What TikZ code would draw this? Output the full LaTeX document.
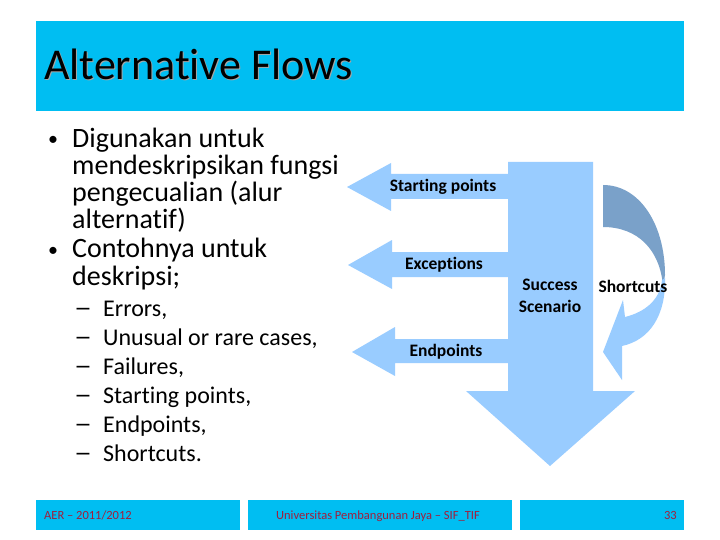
\documentclass[tikz,border=0pt]{standalone}
\usepackage{fontspec}
\setmainfont{Carlito}[Ligatures={NoCommon},RawFeature={-liga;-clig;-dlig}]
\definecolor{barcyan}{RGB}{0,190,242}
\definecolor{arrowblue}{RGB}{153,204,255}
\definecolor{arrowdark}{RGB}{122,161,201}
\definecolor{foottext}{RGB}{160,30,60}
\tikzset{
  body/.style={anchor=base west,inner sep=0pt,font=\fontsize{28}{28}\selectfont},
  bul/.style={anchor=base west,inner sep=0pt,font=\fontsize{20}{20}\selectfont},
  subbody/.style={anchor=base west,inner sep=0pt,font=\fontsize{24}{24}\selectfont},
  lbl/.style={inner sep=0pt,font=\fontsize{17.5}{21.5}\selectfont\bfseries,align=center},
  foot/.style={inner sep=0pt,anchor=base,font=\fontsize{12.5}{12.5}\selectfont,text=foottext}
}
\begin{document}
\begin{tikzpicture}[x=1pt,y=-1pt]
\useasboundingbox (0,0) rectangle (720,540);
\fill[white] (0,0) rectangle (720,540);
% title bar
\fill[barcyan] (36,21) rectangle (684,111);
\node[anchor=base west,inner sep=0pt,font=\fontsize{44}{44}\selectfont,text=black!35] at (45,81) {Alternative Flows};
\node[anchor=base west,inner sep=0pt,font=\fontsize{44}{44}\selectfont] (title) at (44,80) {Alternative Flows};
% body text
\node[bul] (b1) at (48,146) {•};
\node[body] (l1) at (72,148) {Digunakan untuk};
\node[body] (l2) at (72,175) {mendeskripsikan fungsi};
\node[body] (l3) at (72,202) {pengecualian (alur};
\node[body] (l4) at (72,229) {alternatif)};
\node[bul] (b2) at (48,256) {•};
\node[body] (l5) at (72,258) {Contohnya untuk};
\node[body] (l6) at (72,285) {deskripsi;};
\foreach \y/\t [count=\i] in {316/{Errors,},345/{Unusual or rare cases,},374/{Failures,},403/{Starting points,},432/{Endpoints,},461/{Shortcuts.}}{
  \node[subbody] (d\i) at (74,\y) {\scalebox{1.5}[1.1]{–}};
  \node[subbody] (s\i) at (103,\y) {\t};
}
% big down arrow and side arrows
\fill[arrowblue] (508,162) -- (593,162) -- (593,391) -- (635,391) -- (550,466) -- (466,391) -- (508,391) -- cycle;
\fill[arrowblue] (509,174) -- (391,174) -- (391,163) -- (347,187) -- (391,211) -- (391,199) -- (509,199) -- cycle;
\fill[arrowblue] (509,252) -- (392,252) -- (392,240) -- (348,265) -- (392,289) -- (392,277) -- (509,277) -- cycle;
\fill[arrowblue] (509,339) -- (395,339) -- (395,327) -- (352,352) -- (395,376) -- (395,363) -- (509,363) -- cycle;
% curved shortcut arrow
\fill[arrowdark] (603,185) .. controls (640,185) and (665,225) .. (665,275) -- (663,286) .. controls (660,250) and (638,227) .. (603,227) -- cycle;
\fill[arrowblue] (665,278) .. controls (666,315) and (650,340) .. (622,346) -- (622,380) -- (603,352) -- (623,300) -- (625,317) .. controls (645,312) and (660,300) .. (662,280) -- cycle;
% labels
\node[lbl] (sp) at (443,187) {Starting points};
\node[lbl] (ex) at (444,265) {Exceptions};
\node[lbl] (ep) at (446,352) {Endpoints};
\node[lbl] (ss) at (550,296) {Success\\Scenario};
\node[lbl] (sc) at (633,286) {Shortcuts};
% footer
\fill[barcyan] (36,500) rectangle (240,530);
\fill[barcyan] (248,500) rectangle (512,530);
\fill[barcyan] (520,500) rectangle (684,530);
\node[foot,anchor=base west] (f1) at (44,519) {AER – 2011/2012};
\node[foot] (f2) at (378,519) {Universitas Pembangunan Jaya – SIF\_TIF};
\node[foot,anchor=base east] (f3) at (677,519) {33};
\end{tikzpicture}
\end{document}
